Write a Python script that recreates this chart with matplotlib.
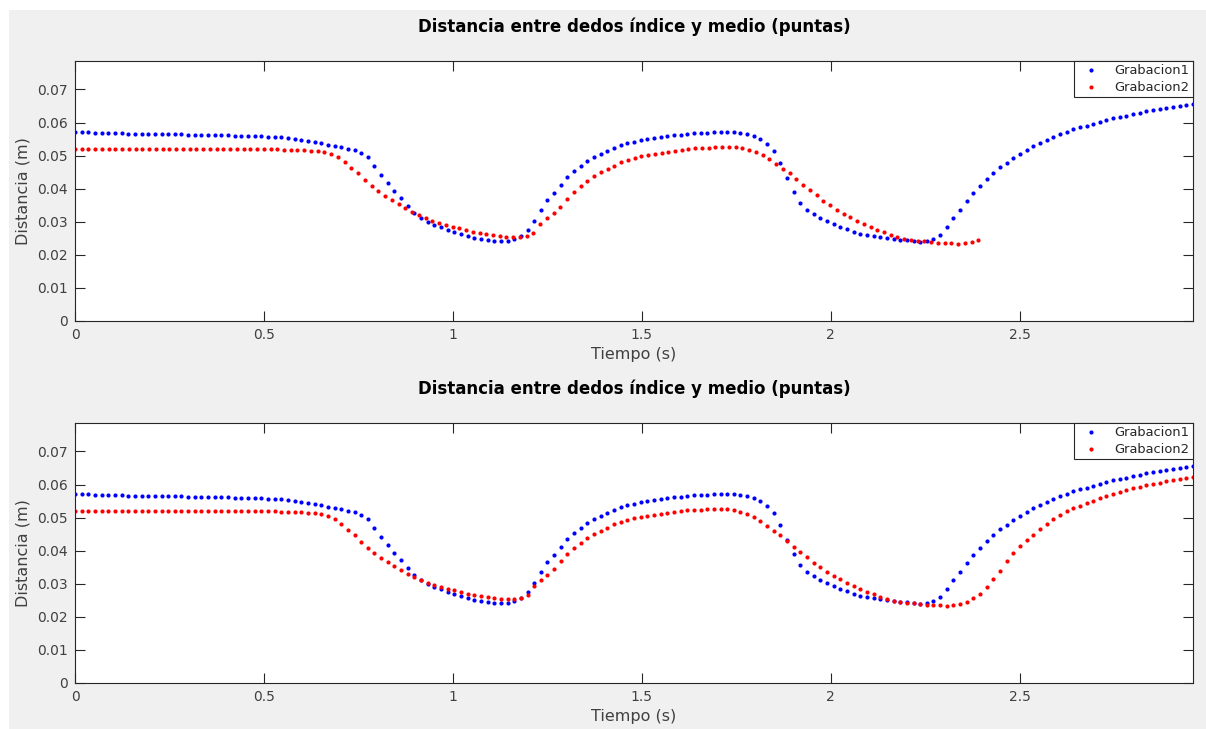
import numpy as np
import matplotlib
matplotlib.use("Agg")
import matplotlib.pyplot as plt
from matplotlib.patches import Rectangle

# sampling intervals (s) of both recordings
dt1 = 0.01761
dt2 = 0.01784

grabacion1 = [
    0.0572, 0.0571, 0.0570, 0.0569, 0.0568, 0.0568, 0.0567, 0.0567, 0.0566, 0.0566,
    0.0566, 0.0565, 0.0565, 0.0565, 0.0564, 0.0564, 0.0564, 0.0563, 0.0563, 0.0563,
    0.0562, 0.0562, 0.0561, 0.0561, 0.0560, 0.0560, 0.0559, 0.0558, 0.0558, 0.0557,
    0.0556, 0.0555, 0.0553, 0.0551, 0.0548, 0.0545, 0.0541, 0.0537, 0.0533, 0.0530,
    0.0526, 0.0521, 0.0516, 0.0509, 0.0497, 0.0469, 0.0441, 0.0416, 0.0394, 0.0373,
    0.0348, 0.0327, 0.0311, 0.0299, 0.0290, 0.0283, 0.0276, 0.0269, 0.0262, 0.0256,
    0.0250, 0.0247, 0.0244, 0.0243, 0.0243, 0.0243, 0.0247, 0.0257, 0.0275, 0.0303,
    0.0335, 0.0365, 0.0387, 0.0410, 0.0434, 0.0453, 0.0470, 0.0483, 0.0495, 0.0506,
    0.0515, 0.0523, 0.0531, 0.0537, 0.0542, 0.0547, 0.0551, 0.0554, 0.0557, 0.0559,
    0.0561, 0.0563, 0.0565, 0.0567, 0.0568, 0.0569, 0.0570, 0.0570, 0.0571, 0.0571,
    0.0568, 0.0564, 0.0559, 0.0550, 0.0534, 0.0513, 0.0478, 0.0431, 0.0390, 0.0358,
    0.0337, 0.0322, 0.0311, 0.0302, 0.0293, 0.0285, 0.0277, 0.0269, 0.0263, 0.0259,
    0.0256, 0.0253, 0.0250, 0.0247, 0.0245, 0.0244, 0.0241, 0.0240, 0.0242, 0.0247,
    0.0261, 0.0283, 0.0310, 0.0337, 0.0363, 0.0386, 0.0409, 0.0428, 0.0448, 0.0465,
    0.0479, 0.0493, 0.0506, 0.0517, 0.0528, 0.0538, 0.0548, 0.0557, 0.0565, 0.0572,
    0.0579, 0.0585, 0.0591, 0.0597, 0.0603, 0.0608, 0.0613, 0.0617, 0.0621, 0.0625,
    0.0630, 0.0634, 0.0638, 0.0641, 0.0644, 0.0647, 0.0650, 0.0652, 0.0655,
]

grabacion2 = [
    0.0520, 0.0520, 0.0520, 0.0520, 0.0520, 0.0520, 0.0520, 0.0520, 0.0520, 0.0520,
    0.0520, 0.0520, 0.0520, 0.0520, 0.0520, 0.0520, 0.0520, 0.0520, 0.0520, 0.0520,
    0.0520, 0.0520, 0.0520, 0.0520, 0.0520, 0.0520, 0.0519, 0.0519, 0.0519, 0.0519,
    0.0519, 0.0518, 0.0518, 0.0517, 0.0516, 0.0515, 0.0513, 0.0511, 0.0505, 0.0495,
    0.0481, 0.0464, 0.0446, 0.0427, 0.0408, 0.0392, 0.0379, 0.0367, 0.0354, 0.0341,
    0.0329, 0.0319, 0.0310, 0.0303, 0.0296, 0.0290, 0.0285, 0.0280, 0.0275, 0.0270,
    0.0266, 0.0262, 0.0260, 0.0256, 0.0254, 0.0253, 0.0253, 0.0256, 0.0265, 0.0293,
    0.0312, 0.0325, 0.0345, 0.0369, 0.0390, 0.0408, 0.0424, 0.0437, 0.0449, 0.0460,
    0.0470, 0.0480, 0.0487, 0.0493, 0.0498, 0.0502, 0.0506, 0.0509, 0.0512, 0.0515,
    0.0518, 0.0520, 0.0522, 0.0523, 0.0524, 0.0525, 0.0525, 0.0525, 0.0525, 0.0523,
    0.0518, 0.0512, 0.0502, 0.0490, 0.0476, 0.0461, 0.0447, 0.0428, 0.0411, 0.0395,
    0.0380, 0.0364, 0.0350, 0.0337, 0.0324, 0.0313, 0.0301, 0.0292, 0.0283, 0.0276,
    0.0268, 0.0261, 0.0254, 0.0249, 0.0245, 0.0242, 0.0241, 0.0239, 0.0236, 0.0235,
    0.0235, 0.0234, 0.0236, 0.0239, 0.0245,
]

# second recording continues in the lower plot
grabacion2_cont = [
    0.0257, 0.0270, 0.0289, 0.0313, 0.0339, 0.0368, 0.0392, 0.0414, 0.0432, 0.0448,
    0.0465, 0.0482, 0.0496, 0.0509, 0.0519, 0.0528, 0.0536, 0.0544, 0.0551, 0.0558,
    0.0565, 0.0572, 0.0578, 0.0583, 0.0588, 0.0593, 0.0598, 0.0602, 0.0606, 0.0610,
    0.0614, 0.0617, 0.0620, 0.0623,
]

xticks = [0, 0.5, 1, 1.5, 2, 2.5]
xticklabels = ["0", "0.5", "1", "1.5", "2", "2.5"]
yticks = [0, 0.01, 0.02, 0.03, 0.04, 0.05, 0.06, 0.07]
yticklabels = ["0", "0.01", "0.02", "0.03", "0.04", "0.05", "0.06", "0.07"]
titulo = "Distancia entre dedos índice y medio (puntas)"
nombres = ["Grabacion1", "Grabacion2"]

g1 = np.array(grabacion1)
g2_top = np.array(grabacion2)
g2_bot = np.array(grabacion2 + grabacion2_cont)
t1 = np.arange(len(g1)) * dt1
t2 = np.arange(len(g2_top)) * dt2

W, H = 1206, 729
fig = plt.figure(figsize=(W / 100, H / 100), dpi=100, facecolor="white")
fig.patches.append(Rectangle((9 / W, 0), 1, 1 - 10 / H, transform=fig.transFigure,
                             facecolor="#f0f0f0", edgecolor="none", zorder=-10))

ax_col = "#262626"
left, width, height = 75 / W, 1118 / W, 260 / H
ax1 = fig.add_axes([left, 1 - 321 / H, width, height])
ax2 = fig.add_axes([left, 1 - 683 / H, width, height])

series = [
    (ax1, t1, g1, t2, g2_top),
    (ax2, t1, g1, t1, g2_bot),
]

for ax, ta, ya, tb, yb in series:
    ax.set_facecolor("white")
    ax.plot(ta, ya, "o", color=(0, 0, 1), ms=3.0, mew=0, label=nombres[0])
    ax.plot(tb, yb, "o", color=(1, 0, 0), ms=3.0, mew=0, label=nombres[1])
    ax.set_xlim(0, t1[-1])
    ax.set_ylim(0, 1.2 * max(g1.max(), g2_bot.max()))
    ax.set_xticks(xticks, xticklabels)
    ax.set_yticks(yticks, yticklabels)
    ax.tick_params(direction="in", top=True, right=True, length=7, width=0.8,
                   labelsize=10, colors=ax_col, labelcolor="#404040", pad=5)
    for s in ax.spines.values():
        s.set_color(ax_col)
        s.set_linewidth(0.8)
    ax.set_title(titulo, fontsize=12, fontweight="bold", color="black", pad=21)
    ax.set_xlabel("Tiempo (s)", fontsize=11.5, color="#404040", labelpad=4)
    ax.set_ylabel("Distancia (m)", fontsize=11.5, color="#404040", labelpad=5)
    leg = ax.legend(loc="upper right", borderaxespad=0, fontsize=9.4, fancybox=False,
                    framealpha=1, edgecolor=ax_col, handlelength=2.1,
                    handletextpad=0.8, borderpad=0.25, labelspacing=0.3)
    leg.get_frame().set_linewidth(0.8)
    for txt in leg.get_texts():
        txt.set_color(ax_col)

fig.savefig("out.png", dpi=100, facecolor=fig.get_facecolor())
